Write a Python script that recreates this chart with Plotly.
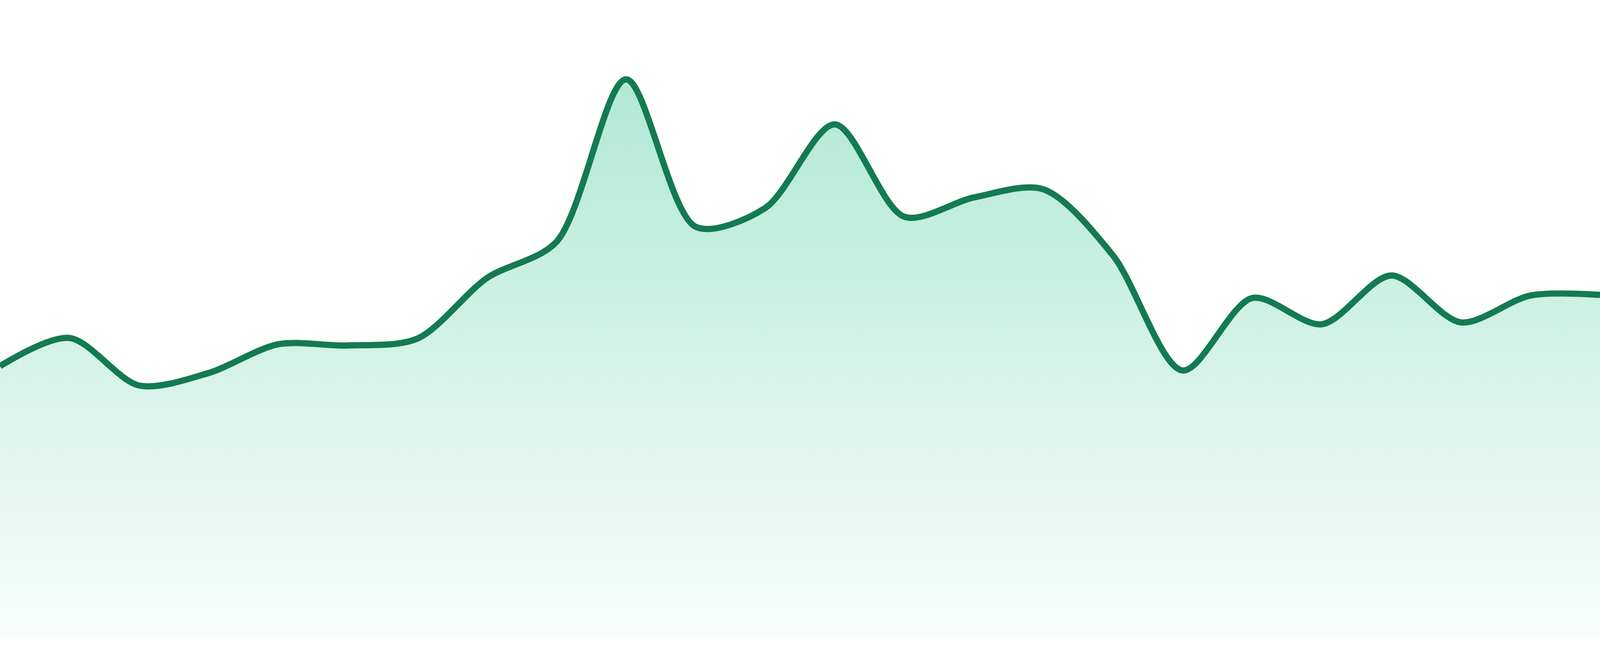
import plotly.graph_objects as go

# one point per step
steps = list(range(24))
values = [43.4, 47.9, 40.3, 42.3, 46.9, 46.7, 47.8, 57.5, 63.3, 89.3,
          65.7, 68.7, 82.1, 67.3, 70.4, 71.7, 61.1, 42.7, 54.3, 50.1,
          57.9, 50.4, 54.7, 54.8]

line_color = "#137a52"

fig = go.Figure()
fig.add_trace(go.Scatter(
    x=steps,
    y=values,
    mode="lines",
    line=dict(color=line_color, width=16, shape="spline", smoothing=0.85),
    fill="tozeroy",
    fillgradient=dict(
        type="vertical",
        colorscale=[[0, "rgba(16,185,129,0.03)"],
                    [1, "rgba(16,185,129,0.33)"]],
    ),
    hoverinfo="skip",
))

fig.update_layout(
    width=4800,
    height=1680,
    margin=dict(l=0, r=0, t=0, b=0),
    paper_bgcolor="white",
    plot_bgcolor="white",
    showlegend=False,
    xaxis=dict(range=[0, 23], visible=False, fixedrange=True),
    # white strip under the area kept as a share of the height
    yaxis=dict(range=[0, 102], visible=False, fixedrange=True,
               domain=[48 / 1680, 1]),
)

# fit the figure to the real viewport and keep the stroke at 16 device px
js = """
var gd = document.getElementById('{plot_id}');
document.body.style.margin = '0';
document.body.style.overflow = 'hidden';
var dpr = window.devicePixelRatio || 1;
Plotly.relayout(gd, {width: window.innerWidth, height: window.innerHeight});
Plotly.restyle(gd, {'line.width': 16 / dpr});
"""

fig.write_html("out.html", config={"displayModeBar": False}, post_script=js)
